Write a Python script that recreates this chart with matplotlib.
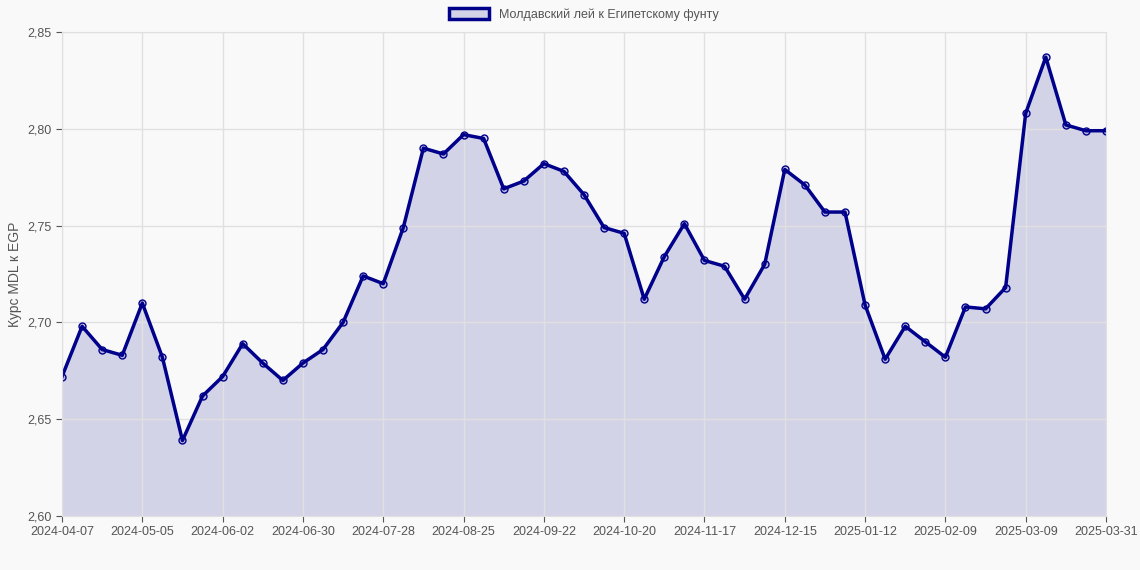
import matplotlib.pyplot as plt
from matplotlib.patches import Patch

plt.rcParams["font.family"] = ["Liberation Sans", "DejaVu Sans"]

dates = [
    "2024-04-07", "2024-04-14", "2024-04-21", "2024-04-28", "2024-05-05", "2024-05-12",
    "2024-05-19", "2024-05-26", "2024-06-02", "2024-06-09", "2024-06-16", "2024-06-23",
    "2024-06-30", "2024-07-07", "2024-07-14", "2024-07-21", "2024-07-28", "2024-08-04",
    "2024-08-11", "2024-08-18", "2024-08-25", "2024-09-01", "2024-09-08", "2024-09-15",
    "2024-09-22", "2024-09-29", "2024-10-06", "2024-10-13", "2024-10-20", "2024-10-27",
    "2024-11-03", "2024-11-10", "2024-11-17", "2024-11-24", "2024-12-01", "2024-12-08",
    "2024-12-15", "2024-12-22", "2024-12-29", "2025-01-05", "2025-01-12", "2025-01-19",
    "2025-01-26", "2025-02-02", "2025-02-09", "2025-02-16", "2025-02-23", "2025-03-02",
    "2025-03-09", "2025-03-16", "2025-03-23", "2025-03-30", "2025-03-31",
]
rates = [
    2.672, 2.698, 2.686, 2.683, 2.710, 2.682, 2.639, 2.662, 2.672, 2.689,
    2.679, 2.670, 2.679, 2.686, 2.700, 2.724, 2.720, 2.749, 2.790, 2.787,
    2.797, 2.795, 2.769, 2.773, 2.782, 2.778, 2.766, 2.749, 2.746, 2.712,
    2.734, 2.751, 2.732, 2.729, 2.712, 2.730, 2.779, 2.771, 2.757, 2.757,
    2.709, 2.681, 2.698, 2.690, 2.682, 2.708, 2.707, 2.718, 2.808, 2.837,
    2.802, 2.799, 2.799,
]
yticks = [2.60, 2.65, 2.70, 2.75, 2.80, 2.85]

fill = (0, 0, 139 / 255, 0.15)

fig = plt.figure(figsize=(11.4, 5.7), dpi=100, facecolor="#f9f9f9")
ax = fig.add_axes([62 / 1140, 54 / 570, 1044 / 1140, 484 / 570])
ax.set_facecolor("#f9f9f9")

x = list(range(len(dates)))
ax.fill_between(x, rates, 2.60, color=fill, linewidth=0)
ax.plot(x, rates, color="#00008b", linewidth=2.5, marker="o", markersize=5,
        markerfacecolor=fill, markeredgecolor="#00008b", markeredgewidth=1)

tick_idx = list(range(0, len(dates) - 1, 4)) + [len(dates) - 1]
ax.set_xticks(tick_idx)
ax.set_xticklabels([dates[i] for i in tick_idx])
ax.set_xlim(0, len(dates) - 1)
ax.set_ylim(2.60, 2.85)
ax.set_yticks(yticks)
ax.set_yticklabels([f"{v:.2f}".replace(".", ",") for v in yticks])
ax.grid(True, color="#e0e0e0", linewidth=1)
ax.tick_params(colors="#555555", labelsize=9, length=4)
for s in ax.spines.values():
    s.set_color("#e0e0e0")
ax.set_ylabel("Курс MDL к EGP", color="#555555", fontsize=10)

ax.legend(handles=[Patch(facecolor=fill, edgecolor="#00008b", linewidth=2.5,
                         label="Молдавский лей к Египетскому фунту")],
          loc="lower center", bbox_to_anchor=(0.5, 1.0), frameon=False, fontsize=9,
          handlelength=3.2, handleheight=0.9, labelcolor="#555555")

fig.savefig("out.png", facecolor=fig.get_facecolor())
